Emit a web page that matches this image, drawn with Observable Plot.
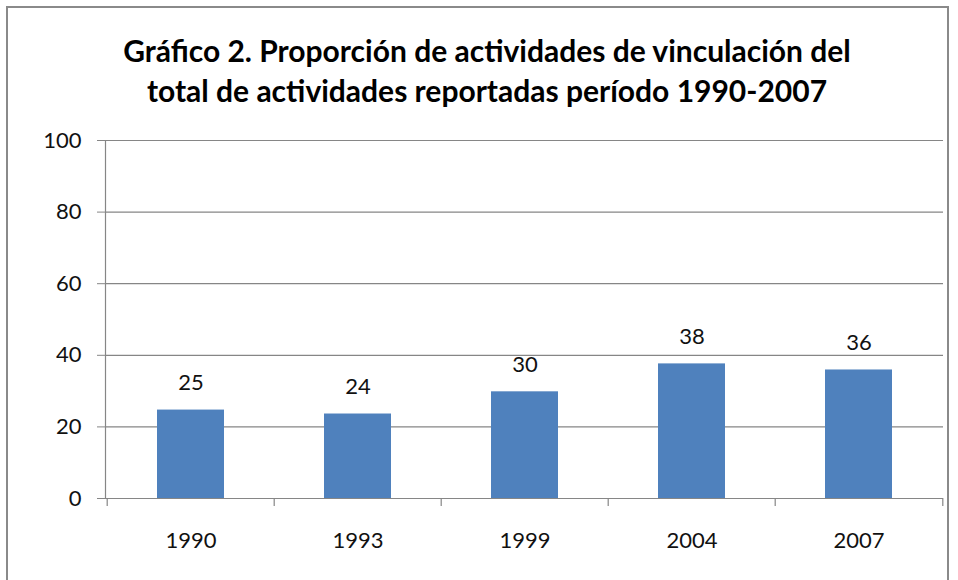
<!DOCTYPE html>
<html>
<head>
<meta charset="utf-8">
<script src="https://cdn.jsdelivr.net/npm/d3@7"></script>
<script src="https://cdn.jsdelivr.net/npm/@observablehq/plot@0.6"></script>
<style>
  html, body { margin: 0; padding: 0; background: #fff; }
  body { width: 958px; height: 580px; position: relative; overflow: hidden; font-family: Lato, "Open Sans", sans-serif; }
  #frame { position: absolute; left: 6px; top: 6px; width: 943px; height: 600px; border: 2px solid #8a8a8a; box-sizing: border-box; }
  #title { position: absolute; left: 0; top: 30px; width: 974px; text-align: center; font-size: 30px; font-weight: 700; line-height: 40px; color: #000; }
  #chart { position: absolute; left: 0; top: 120px; }
</style>
</head>
<body>
<div id="frame"></div>
<div id="title">Gráfico 2. Proporción de actividades de vinculación del<br>total de actividades reportadas período 1990-2007</div>
<div id="chart"></div>
<script>
const years = ["1990", "1993", "1999", "2004", "2007"];
const values = [24.7, 23.6, 29.8, 37.6, 35.9];
const labels = [25, 24, 30, 38, 36];
const yTicks = [0, 20, 40, 60, 80, 100];

const data = years.map((y, i) => ({year: y, value: values[i], label: labels[i]}));

const W = 958, ML = 105, MR = 15;
const step = (W - ML - MR) / years.length;

const chart = Plot.plot({
  width: W,
  height: 438,
  marginTop: 20,
  marginBottom: 60,
  marginLeft: ML,
  marginRight: MR,
  style: {fontFamily: "Lato, 'Open Sans', sans-serif", fontSize: "22px", color: "#111", background: "transparent"},
  x: {domain: years, paddingInner: 0.6, paddingOuter: 0.3, label: null},
  y: {domain: [0, 100], label: null},
  marks: [
    Plot.gridY(yTicks, {stroke: "#868686", strokeOpacity: 1, strokeWidth: 1.2}),
    Plot.barY(data, {x: "year", y: "value", fill: "#4F81BD"}),
    Plot.ruleY([0], {stroke: "#868686", strokeWidth: 1.2}),
    Plot.frame({anchor: "left", stroke: "#868686", strokeWidth: 1.2}),
    Plot.ruleX(years, {x: d => d, dx: -step / 2, y1: 0, y2: 0, insetBottom: -8, stroke: "#868686", strokeWidth: 1.2}),
    Plot.ruleX(years.slice(-1), {x: d => d, dx: step / 2, y1: 0, y2: 0, insetBottom: -8, stroke: "#868686", strokeWidth: 1.2}),
    Plot.axisY(yTicks, {tickSize: 8, tickPadding: 16, stroke: "#868686", fontSize: 22, fill: "#111"}),
    Plot.axisX({tickSize: 0, tickPadding: 34, fontSize: 22, fill: "#111"}),
    Plot.text(data, {x: "year", y: "value", text: "label", dy: -27, fontSize: 22, fill: "#111"})
  ]
});
document.getElementById("chart").appendChild(chart);
</script>
</body>
</html>
